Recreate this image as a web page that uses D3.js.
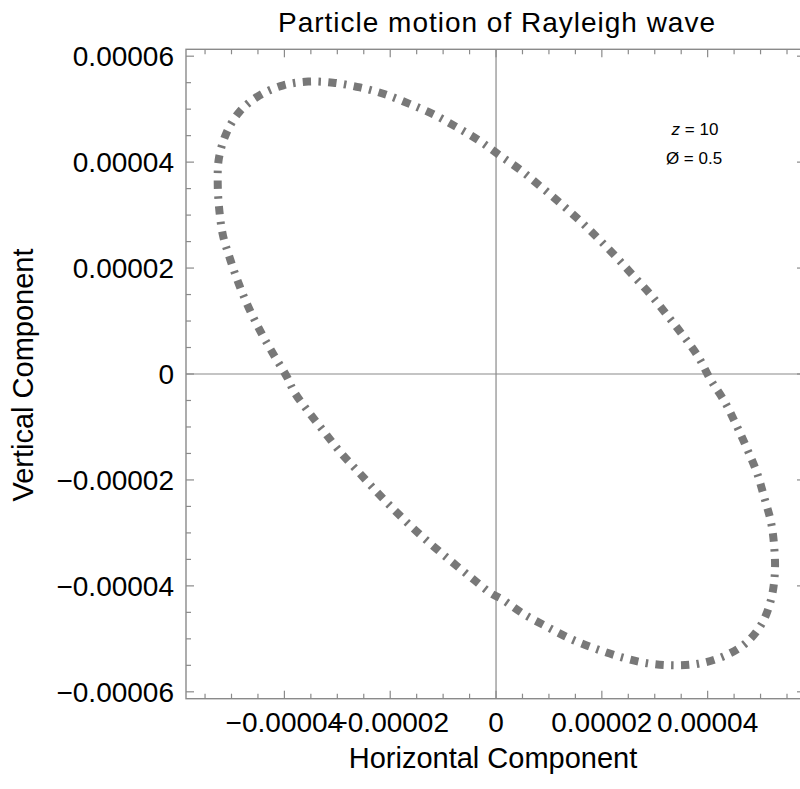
<!DOCTYPE html>
<html>
<head>
<meta charset="utf-8">
<script src="https://cdn.jsdelivr.net/npm/d3@7"></script>
<style>
  html, body { margin: 0; padding: 0; background: #fff; }
  svg { display: block; font-family: "Liberation Sans", Arial, sans-serif; }
</style>
</head>
<body>
<svg id="chart" width="800" height="789"></svg>
<script>
// ---- data (values in units of 1e-6) ----
const UNIT = 1e-6;
const horizontalValues = [
  0.4, -3.4, -7.6, -12.0, -16.6, -21.0, -25.7, -30.8, -35.5, -40.2, -44.7, -48.5,
  -51.0, -52.4, -52.6, -52.3, -51.6, -50.2, -48.5, -46.6, -44.4, -42.0, -39.5,
  -38.2, -35.4, -32.5, -29.3, -26.0, -22.7, -19.3, -15.9, -12.1, -8.3, -4.5, -0.8,
  1.1, 5.2, 9.6, 14.3, 18.9, 23.8, 28.5, 33.4, 38.2, 43.0, 47.1, 50.2,
  52.0, 52.7, 52.6, 52.0, 50.7, 49.3, 47.4, 45.4, 43.2, 40.5,
  38.2, 35.4, 32.5, 29.3, 26.0, 22.7, 19.3, 15.9, 12.1, 8.3, 4.5
];
const verticalValues = [
  41.5, 44.2, 46.7, 49.1, 51.1, 52.8, 54.1, 55.0, 55.2, 54.5, 52.6, 49.5,
  45.4, 40.6, 35.8, 30.9, 26.1, 21.5, 16.7, 12.2, 7.8, 3.6, -0.6,
  -3.3, -7.2, -10.9, -14.9, -18.5, -22.1, -25.6, -28.9, -32.3, -35.5, -38.6, -41.5,
  -42.5, -45.3, -47.7, -50.1, -51.9, -53.5, -54.6, -55.0, -54.7, -53.3, -50.9, -47.2,
  -42.5, -37.6, -32.9, -28.1, -23.3, -18.6, -14.0, -9.6, -5.2, -1.0,
  3.3, 7.2, 10.9, 14.9, 18.5, 22.1, 25.6, 28.9, 32.3, 35.5, 38.6
];
const xTickValues = [-0.00004, -0.00002, 0, 0.00002, 0.00004];
const xTickLabels = ["\u22120.00004", "\u22120.00002", "0", "0.00002", "0.00004"];
const yTickValues = [-0.00006, -0.00004, -0.00002, 0, 0.00002, 0.00004, 0.00006];
const yTickLabels = ["\u22120.00006", "\u22120.00004", "\u22120.00002", "0", "0.00002", "0.00004", "0.00006"];
const titleText = "Particle motion of Rayleigh wave";
const xLabel = "Horizontal Component";
const yLabel = "Vertical Component";

// ---- layout ----
const svg = d3.select("#chart");
const frame = { left: 186, right: 805, top: 49.3, bottom: 698.7 };
const xScale = d3.scaleLinear().domain([-0.0000586, 0.0000584]).range([frame.left, frame.right]);
const yScale = d3.scaleLinear().domain([-0.0000613, 0.0000613]).range([frame.bottom, frame.top]);
const gray = "#8a8a8a";

svg.append("rect").attr("width", 800).attr("height", 789).attr("fill", "#fff");

// zero axes
svg.append("line").attr("x1", frame.left).attr("x2", frame.right)
  .attr("y1", yScale(0)).attr("y2", yScale(0)).attr("stroke", gray).attr("stroke-width", 1.2);
svg.append("line").attr("x1", xScale(0)).attr("x2", xScale(0))
  .attr("y1", frame.top).attr("y2", frame.bottom).attr("stroke", gray).attr("stroke-width", 1.2);

// curve
const pts = horizontalValues.map((h, i) => [h * UNIT, verticalValues[i] * UNIT]);
const curveGen = d3.line()
  .x(d => xScale(d[0]))
  .y(d => yScale(d[1]))
  .curve(d3.curveCatmullRomClosed.alpha(0.5));
svg.append("path").attr("d", curveGen(pts))
  .attr("fill", "none").attr("stroke", "#787878").attr("stroke-width", 8)
  .attr("stroke-linecap", "butt")
  .attr("stroke-dasharray", "8.3 7.4 2.5 7.4");

// frame
svg.append("rect").attr("x", frame.left).attr("y", frame.top)
  .attr("width", frame.right - frame.left).attr("height", frame.bottom - frame.top)
  .attr("fill", "none").attr("stroke", gray).attr("stroke-width", 1.4);

// ticks
const major = 8, minor = 5;
const xMinor = d3.range(-11, 12).map(k => k * 0.000005).filter(v => !xTickValues.some(t => Math.abs(t - v) < 1e-9));
const yMinor = d3.range(-12, 13).map(k => k * 0.000005).filter(v => !yTickValues.some(t => Math.abs(t - v) < 1e-9));
const tg = svg.append("g").attr("stroke", gray).attr("stroke-width", 1.2);
function xt(vals, len) {
  vals.forEach(v => {
    tg.append("line").attr("x1", xScale(v)).attr("x2", xScale(v)).attr("y1", frame.bottom).attr("y2", frame.bottom - len);
    tg.append("line").attr("x1", xScale(v)).attr("x2", xScale(v)).attr("y1", frame.top).attr("y2", frame.top + len);
  });
}
function yt(vals, len) {
  vals.forEach(v => {
    tg.append("line").attr("y1", yScale(v)).attr("y2", yScale(v)).attr("x1", frame.left).attr("x2", frame.left + len);
    tg.append("line").attr("y1", yScale(v)).attr("y2", yScale(v)).attr("x1", frame.right).attr("x2", frame.right - len);
  });
}
xt(xTickValues, major); xt(xMinor, minor);
yt(yTickValues, major); yt(yMinor, minor);

// tick labels
svg.append("g").selectAll("text").data(xTickValues).join("text")
  .attr("x", d => xScale(d)).attr("y", 731.7)
  .attr("text-anchor", "middle").attr("font-size", 28).attr("fill", "#000")
  .text((d, i) => xTickLabels[i]);
svg.append("g").selectAll("text").data(yTickValues).join("text")
  .attr("x", 174).attr("y", d => yScale(d) + 10.3)
  .attr("text-anchor", "end").attr("font-size", 28).attr("fill", "#000")
  .text((d, i) => yTickLabels[i]);

// titles
svg.append("text").attr("x", 496.5).attr("y", 32).attr("text-anchor", "middle")
  .attr("font-size", 28).attr("textLength", 437).attr("lengthAdjust", "spacing").text(titleText);
svg.append("text").attr("x", 493).attr("y", 768).attr("text-anchor", "middle")
  .attr("font-size", 29).text(xLabel);
svg.append("text").attr("transform", "translate(33,375) rotate(-90)").attr("text-anchor", "middle")
  .attr("font-size", 29).text(yLabel);

// annotation
const ann = svg.append("g").attr("font-size", 17).attr("text-anchor", "middle");
const t1 = ann.append("text").attr("x", 695).attr("y", 135);
t1.append("tspan").attr("font-style", "italic").text("z");
t1.append("tspan").text(" = 10");
ann.append("text").attr("x", 694).attr("y", 164).text("\u00D8 = 0.5");
</script>
</body>
</html>
